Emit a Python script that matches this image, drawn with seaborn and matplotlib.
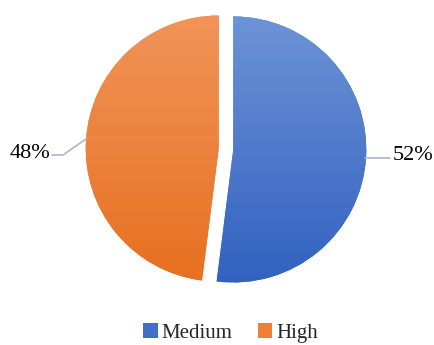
import numpy as np
import matplotlib
matplotlib.use("Agg")
import matplotlib.pyplot as plt
import seaborn as sns
from matplotlib.colors import LinearSegmentedColormap
from matplotlib.patches import Patch

categories = ["Medium", "High"]
values = [52, 48]
labels = ["52%", "48%"]
top_colors = ["#7096d8", "#f2955c"]
bottom_colors = ["#2f5fbf", "#e66f1d"]
base_colors = ["#4472c4", "#ed7d31"]

sns.set_theme(style="white")
plt.rcParams['font.family'] = ['Liberation Serif', 'DejaVu Serif']

W, H = 435, 345
fig = plt.figure(figsize=(W / 100, H / 100), dpi=100)
cx, cy, R = 226, 149, 133
s = 150
ax = fig.add_axes([(cx - s) / W, (H - cy - s) / H, 2 * s / W, 2 * s / H])
lim = s / R

wedges, _ = ax.pie(values, colors=base_colors, startangle=90, counterclock=False,
                   explode=[0.055, 0.055], radius=1.0,
                   wedgeprops=dict(linewidth=0))

for w, ct, cb in zip(wedges, top_colors, bottom_colors):
    cmap = LinearSegmentedColormap.from_list("g", [cb, ct])
    grad = np.linspace(0, 1, 256).reshape(-1, 1)
    im = ax.imshow(grad, cmap=cmap, origin="lower", extent=[-1.2, 1.2, -1.1, 1.1],
                   aspect="auto", zorder=2)
    im.set_clip_path(w)

ax.set_xlim(-lim, lim)
ax.set_ylim(-lim, lim)
ax.set_aspect("equal")
ax.axis("off")

line_col = "#a9b8cc"
# 52% leader
ax.plot([(365 - cx) / R, (390 - cx) / R], [-(158 - cy) / R, -(158 - cy) / R],
        color=line_col, lw=1.2, zorder=3, clip_on=False)
ax.text((393 - cx) / R, -(155 - cy) / R, labels[0], fontsize=16, ha="left", va="center",
        color="black", clip_on=False)
# 48% leader
ax.plot([(86 - cx) / R, (63 - cx) / R, (52 - cx) / R],
        [-(139 - cy) / R, -(155 - cy) / R, -(155 - cy) / R],
        color=line_col, lw=1.2, zorder=3, clip_on=False)
ax.text((50 - cx) / R, -(153 - cy) / R, labels[1], fontsize=16, ha="right", va="center",
        color="black", clip_on=False)

handles = [Patch(facecolor=c, edgecolor="none") for c in ["#3f6fc8", "#ef7f35"]]
fig.legend(handles, categories, loc="center", bbox_to_anchor=(0.53, 1 - 333 / H),
           ncol=2, frameon=False, fontsize=15, handlelength=0.7, handleheight=0.7,
           handletextpad=0.2, columnspacing=1.2, borderaxespad=0, borderpad=0.1)

fig.savefig("out.png", dpi=100)
